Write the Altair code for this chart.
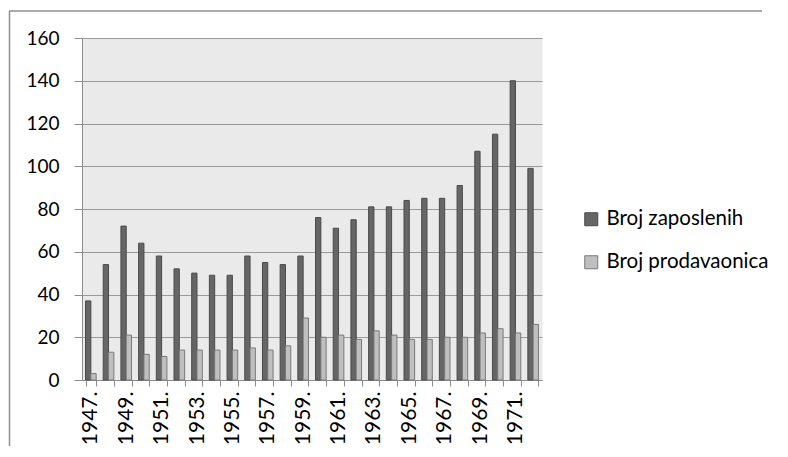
import altair as alt
import pandas as pd

# ---- data ----
years = ["1947.", "1948.", "1949.", "1950.", "1951.", "1952.", "1953.", "1954.",
         "1955.", "1956.", "1957.", "1958.", "1959.", "1960.", "1961.", "1962.",
         "1963.", "1964.", "1965.", "1966.", "1967.", "1968.", "1969.", "1970.",
         "1971.", "1972."]
zaposlenih = [37, 54, 72, 64, 58, 52, 50, 49, 49, 58, 55, 54, 58, 76, 71, 75,
              81, 81, 84, 85, 85, 91, 107, 115, 140, 99]
prodavaonica = [3, 13, 21, 12, 11, 14, 14, 14, 14, 15, 14, 16, 29, 20, 21, 19,
                23, 21, 19, 19, 20, 20, 22, 24, 22, 26]
series = ["Broj zaposlenih", "Broj prodavaonica"]
y_ticks = [0, 20, 40, 60, 80, 100, 120, 140, 160]

rows = []
for i, y in enumerate(years):
    rows.append({"godina": y, "serija": series[0], "vrijednost": zaposlenih[i]})
    rows.append({"godina": y, "serija": series[1], "vrijednost": prodavaonica[i]})
df = pd.DataFrame(rows)

FONT = "Lato"
AXIS_GRAY = "#8c8c8c"

legend = alt.Legend(
    title=None, orient="none", legendX=499, legendY=171,
    symbolType="square", symbolSize=169, symbolStrokeWidth=1,
    labelFont=FONT, labelFontSize=20.5, labelColor="#000000",
    labelOffset=5, rowPadding=22, padding=0, labelLimit=400,
)

bars = alt.Chart(df).mark_bar(strokeWidth=1).encode(
    x=alt.X(
        "godina:N", sort=years,
        scale=alt.Scale(paddingInner=0.4, paddingOuter=0.2),
        axis=alt.Axis(
            title=None, labelAngle=-90,
            labelExpr="parseInt(datum.value) % 2 == 1 ? datum.label : ''",
            tickBand="extent", labelFont=FONT, labelFontSize=21,
            labelColor="#000000", domainColor=AXIS_GRAY, tickColor=AXIS_GRAY,
            tickSize=6, labelPadding=5, labelOverlap=False,
        ),
    ),
    xOffset=alt.XOffset("serija:N", sort=series,
                        scale=alt.Scale(paddingInner=0, paddingOuter=0)),
    y=alt.Y(
        "vrijednost:Q",
        scale=alt.Scale(domain=[0, 160], nice=False),
        axis=alt.Axis(
            title=None, values=y_ticks, grid=True, gridColor="#9a9a9a",
            gridWidth=1, labelFont=FONT, labelFontSize=19, labelColor="#000000",
            domainColor=AXIS_GRAY, tickColor=AXIS_GRAY, tickSize=8,
            labelPadding=15,
        ),
    ),
    color=alt.Color("serija:N", sort=series,
                    scale=alt.Scale(domain=series, range=["#666666", "#bfbfbf"]),
                    legend=legend),
    stroke=alt.Stroke("serija:N", sort=series,
                      scale=alt.Scale(domain=series, range=["#4a4a4a", "#7a7a7a"]),
                      legend=legend),
)

frame_df = pd.DataFrame({"k": [0]})
vline = alt.Chart(frame_df).mark_rule(color="#8f8f8f", strokeWidth=1.5).encode(
    x=alt.value(-72.5), y=alt.value(-27), y2=alt.value(408)
)
hline = alt.Chart(frame_df).mark_rule(color="#8f8f8f", strokeWidth=1.5).encode(
    x=alt.value(-73), x2=alt.value(680), y=alt.value(-27)
)

chart = alt.layer(bars, vline, hline).properties(
    width=460, height=342,
    padding={"left": 0, "top": 2, "right": 0, "bottom": 0},
).configure_view(fill="#eaeaea", stroke="transparent")

chart.save("out.html", embed_options={"renderer": "svg", "actions": False})
